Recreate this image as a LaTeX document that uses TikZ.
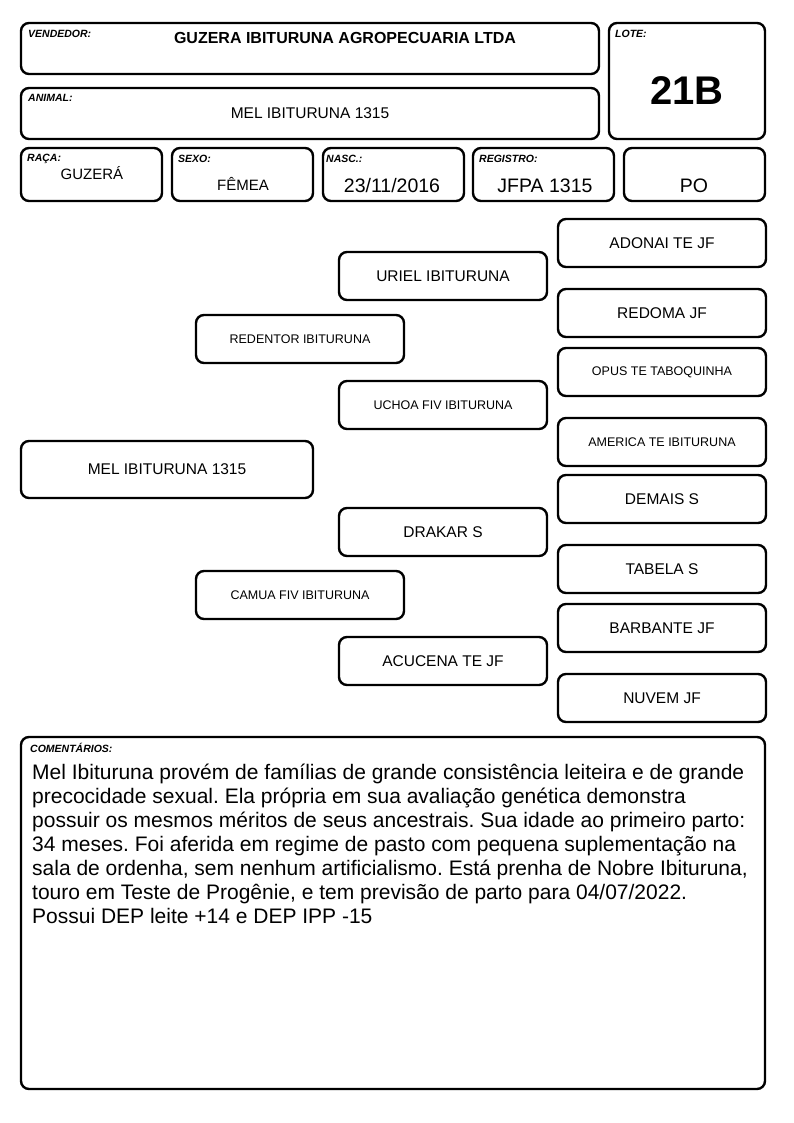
\documentclass[tikz,border=0pt]{standalone}
\usepackage{fontspec}
\setmainfont{Liberation Sans}
\frenchspacing
\begin{document}
\begin{tikzpicture}[x=1pt,y=-1pt,
  frame/.style={draw=black,line width=2.4pt,rounded corners=8pt,fill=white},
  pbox/.style={frame,inner sep=0pt,outer sep=0pt,minimum width=208pt,minimum height=48pt,align=center},
  lbl/.style={anchor=north west,inner sep=0pt,font=\fontsize{10.5}{12}\selectfont\bfseries\itshape},
  fs/.style={font=\fontsize{#1}{#1}\selectfont}
]
\useasboundingbox (0,0) rectangle (794,1123);
% header frames
\draw[frame] (21,23) rectangle (599,74);
\draw[frame] (609,23) rectangle (765,139);
\draw[frame] (21,88) rectangle (599,139);
\draw[frame] (21,148) rectangle (162,201);
\draw[frame] (172,148) rectangle (313,201);
\draw[frame] (323,148) rectangle (464,201);
\draw[frame] (473,148) rectangle (614,201);
\draw[frame] (624,148) rectangle (765,201);
% header labels
\node[lbl] (lvend) at (28,30) {VENDEDOR:};
\node[lbl] (llote) at (615,30) {LOTE:};
\node[lbl] (lanim) at (28,94) {ANIMAL:};
\node[lbl] (lraca) at (27,154) {RAÇA:};
\node[lbl] (lsexo) at (178,155) {SEXO:};
\node[lbl] (lnasc) at (326,155) {NASC.:};
\node[lbl] (lreg) at (479,155) {REGISTRO:};
% header values
\node[font=\fontsize{16}{16}\selectfont\bfseries] (vend) at (345,38) {GUZERA IBITURUNA AGROPECUARIA LTDA};
\node[font=\fontsize{40}{40}\selectfont\bfseries] (lote) at (687,91) {21B};
\node[fs=15.5] (anim) at (310,113) {MEL IBITURUNA 1315};
\node[fs=15] (raca) at (92,173) {GUZERÁ};
\node[fs=15] (sexo) at (243,184) {FÊMEA};
\node[fs=19.5] (nasc) at (392,186) {23/11/2016};
\node[fs=19.5] (reg) at (545,186) {JFPA 1315};
\node[fs=19.5] (po) at (694,186) {PO};
% pedigree
\node[pbox,minimum width=292pt,minimum height=57pt,fs=15.5] (mel) at (167,469.5) {MEL IBITURUNA 1315};
\node[pbox,fs=12.5] (redentor) at (300,339) {REDENTOR IBITURUNA};
\node[pbox,fs=12.5] (camua) at (300,595) {CAMUA FIV IBITURUNA};
\node[pbox,fs=15.5] (uriel) at (443,276) {URIEL IBITURUNA};
\node[pbox,fs=12.5] (uchoa) at (443,405) {UCHOA FIV IBITURUNA};
\node[pbox,fs=15.5] (drakar) at (443,532) {DRAKAR S};
\node[pbox,fs=15.5] (acucena) at (443,661) {ACUCENA TE JF};
\node[pbox,fs=15.5] (adonai) at (662,243) {ADONAI TE JF};
\node[pbox,fs=15.5] (redoma) at (662,313) {REDOMA JF};
\node[pbox,fs=12.5] (opus) at (662,372) {OPUS TE TABOQUINHA};
\node[pbox,fs=12.5] (america) at (662,442) {AMERICA TE IBITURUNA};
\node[pbox,fs=15.5] (demais) at (662,499) {DEMAIS S};
\node[pbox,fs=15.5] (tabela) at (662,569) {TABELA S};
\node[pbox,fs=15.5] (barbante) at (662,628) {BARBANTE JF};
\node[pbox,fs=15.5] (nuvem) at (662,698) {NUVEM JF};
% comments
\draw[frame] (21,737) rectangle (765,1089);
\node[lbl,font=\fontsize{10.5}{12}\selectfont\bfseries\itshape] (lcom) at (30,743) {COMENTÁRIOS:};
\node[anchor=north west,inner sep=0pt,align=left,font=\fontsize{21}{24}\selectfont] (com) at (32,764)
{Mel Ibituruna provém de famílias de grande consistência leiteira e de grande\\
precocidade sexual. Ela própria em sua avaliação genética demonstra\\
possuir os mesmos méritos de seus ancestrais. Sua idade ao primeiro parto:\\
34 meses. Foi aferida em regime de pasto com pequena suplementação na\\
sala de ordenha, sem nenhum artificialismo. Está prenha de Nobre Ibituruna,\\
touro em Teste de Progênie, e tem previsão de parto para 04/07/2022.\\
Possui DEP leite +14 e DEP IPP -15};
\end{tikzpicture}
\end{document}
